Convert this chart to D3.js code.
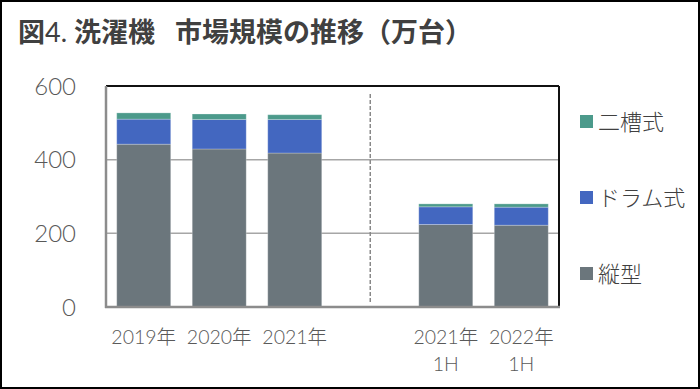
<!DOCTYPE html>
<html>
<head>
<meta charset="utf-8">
<script src="https://cdn.jsdelivr.net/npm/d3@7"></script>
<style>
  body { margin: 0; background: #fff; }
  svg { display: block; }
</style>
</head>
<body>
<svg width="700" height="389"></svg>
<script>
var categories = ["2019年", "2020年", "2021年", "", "2021年\n1H", "2022年\n1H"];
var tateGata = [442, 429, 418, null, 224, 222];   // 縦型
var drum = [68, 80, 91, null, 48, 49];            // ドラム式
var nisou = [17, 15, 13, null, 8, 9];             // 二槽式
var seriesNames = ["縦型", "ドラム式", "二槽式"];
var yTicks = [0, 200, 400, 600];

var colors = { "縦型": "#6b767c", "ドラム式": "#4367c0", "二槽式": "#4c9a8b" };

var svg = d3.select("svg"),
    width = +svg.attr("width"),
    height = +svg.attr("height");

var font = "Lato, 'Noto Sans CJK JP', sans-serif";

// outer frame
svg.append("rect")
    .attr("x", 1).attr("y", 1)
    .attr("width", width - 2).attr("height", height - 2)
    .attr("fill", "#fff").attr("stroke", "#000").attr("stroke-width", 2);

// title
var title = svg.append("text")
    .attr("x", 18).attr("y", 42)
    .attr("font-family", "'Noto Sans CJK JP', sans-serif")
    .attr("font-size", 27).attr("font-weight", "bold")
    .attr("fill", "#404040");
title.append("tspan").text("図");
title.append("tspan").attr("font-weight", "normal").attr("font-family", font).text("4. ");
title.append("tspan").text("洗濯機");
title.append("tspan").attr("dx", 20).text("市場規模の推移（万台）");

var rows = categories.map(function (c, i) {
    return { cat: c, i: i, "縦型": tateGata[i], "ドラム式": drum[i], "二槽式": nisou[i] };
});

var x = d3.scaleBand()
    .domain(d3.range(categories.length))
    .range([106, 559])
    .paddingInner(0.285)
    .paddingOuter(0.142);

var y = d3.scaleLinear().domain([0, 600]).range([307, 86]);

// gridlines
svg.append("g")
    .selectAll("line")
    .data([200, 400])
    .enter().append("line")
    .attr("x1", 106).attr("x2", 559)
    .attr("y1", function (d) { return y(d); })
    .attr("y2", function (d) { return y(d); })
    .attr("stroke", "#a6a6a6").attr("stroke-width", 1.5);

// stacked bars
var stack = d3.stack().keys(seriesNames)
    .value(function (d, k) { return d[k] || 0; });
var layers = stack(rows.filter(function (d) { return d["縦型"] != null; }));

svg.append("g")
    .selectAll("g")
    .data(layers)
    .enter().append("g")
    .attr("fill", function (d) { return colors[d.key]; })
    .selectAll("rect")
    .data(function (d) { return d; })
    .enter().append("rect")
    .attr("x", function (d) { return x(d.data.i); })
    .attr("width", x.bandwidth())
    .attr("y", function (d) { return y(d[1]); })
    .attr("height", function (d) { return y(d[0]) - y(d[1]); })
    .attr("stroke", "rgba(255,255,255,0.25)")
    .attr("stroke-width", 1);

// dashed separator in empty slot
svg.append("line")
    .attr("x1", x(3) + x.bandwidth() / 2).attr("x2", x(3) + x.bandwidth() / 2)
    .attr("y1", 94).attr("y2", 302)
    .attr("stroke", "#888").attr("stroke-width", 1.5)
    .attr("stroke-dasharray", "4,2");

// plot frame: top/right dark, left/bottom gray
svg.append("line").attr("x1", 106).attr("x2", 559).attr("y1", 86).attr("y2", 86)
    .attr("stroke", "#111").attr("stroke-width", 2);
svg.append("line").attr("x1", 559).attr("x2", 559).attr("y1", 86).attr("y2", 308)
    .attr("stroke", "#111").attr("stroke-width", 2);
svg.append("line").attr("x1", 106).attr("x2", 106).attr("y1", 86).attr("y2", 308)
    .attr("stroke", "#8c8c8c").attr("stroke-width", 2.5);
svg.append("line").attr("x1", 105).attr("x2", 560).attr("y1", 307).attr("y2", 307)
    .attr("stroke", "#8c8c8c").attr("stroke-width", 2.5);

// y axis labels
svg.append("g")
    .selectAll("text")
    .data(yTicks)
    .enter().append("text")
    .attr("x", 76)
    .attr("y", function (d) { return y(d); })
    .attr("dy", "0.36em")
    .attr("text-anchor", "end")
    .attr("font-family", font).attr("font-size", 24).attr("font-weight", 300)
    .attr("fill", "#595959")
    .text(function (d) { return d; });

// x axis labels
var xl = svg.append("g")
    .selectAll("text")
    .data(rows.filter(function (d) { return d.cat !== ""; }))
    .enter().append("text")
    .attr("text-anchor", "middle")
    .attr("font-family", font).attr("font-size", 19.5).attr("font-weight", 300)
    .attr("fill", "#595959");
xl.each(function (d) {
    var t = d3.select(this);
    d.cat.split("\n").forEach(function (line, j) {
        t.append("tspan")
            .attr("x", x(d.i) + x.bandwidth() / 2)
            .attr("y", 344 + j * 27)
            .text(line);
    });
});

// legend
var legendY = { "二槽式": 122, "ドラム式": 198, "縦型": 274 };
var legend = svg.append("g")
    .selectAll("g")
    .data(seriesNames.slice().reverse())
    .enter().append("g")
    .attr("transform", function (d) { return "translate(580," + legendY[d] + ")"; });
legend.append("rect")
    .attr("x", 0).attr("y", -7).attr("width", 13).attr("height", 13)
    .attr("fill", function (d) { return colors[d]; });
legend.append("text")
    .attr("x", 18).attr("dy", "0.36em")
    .attr("font-family", "'Noto Sans CJK JP', sans-serif").attr("font-size", 22)
    .attr("font-weight", 300)
    .attr("fill", "#404040")
    .text(function (d) { return d; });
</script>
</body>
</html>
